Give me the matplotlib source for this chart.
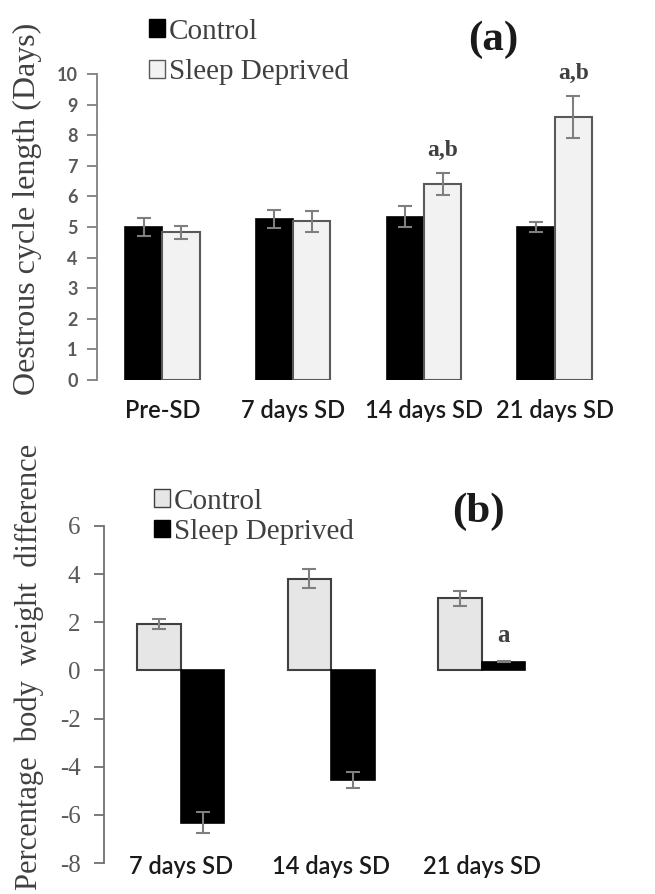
import matplotlib
matplotlib.use("Agg")
import matplotlib.pyplot as plt
from matplotlib.patches import Patch
import numpy as np

plt.rcParams['axes.unicode_minus'] = False

# panel (a): oestrous cycle length
cats_a = ['Pre-SD', '7 days SD', '14 days SD', '21 days SD']
ctrl_a = [5.0, 5.26, 5.34, 5.0]
ctrl_a_err = [0.28, 0.30, 0.35, 0.17]
sd_a = [4.83, 5.18, 6.40, 8.60]
sd_a_err = [0.21, 0.33, 0.37, 0.69]
annot_a = ['', '', 'a,b', 'a,b']

# panel (b): body weight difference
cats_b = ['7 days SD', '14 days SD', '21 days SD']
ctrl_b = [1.94, 3.81, 3.0]
ctrl_b_err = [0.20, 0.40, 0.32]
sd_b = [-6.33, -4.55, 0.37]
sd_b_err = [0.44, 0.33, 0.02]
annot_b = ['', '', 'a']

serif = 'Liberation Serif'
sans = 'Lato'
txt_gray = '#404040'
err_gray = '#7f7f7f'

fig = plt.figure(figsize=(6.55, 8.94), dpi=100)

# ---------- (a)
ax1 = fig.add_axes([97/655, 1-380/894, (620-97)/655, (380-74)/894])
x = np.arange(len(cats_a))
w = 0.285
ax1.bar(x - w/2, ctrl_a, w, color='black', edgecolor='black', linewidth=1.2,
        yerr=ctrl_a_err, error_kw=dict(ecolor=err_gray, elinewidth=1.5, capsize=5, capthick=1.5))
ax1.bar(x + w/2, sd_a, w, color='#f2f2f2', edgecolor='#595959', linewidth=1.5,
        yerr=sd_a_err, error_kw=dict(ecolor=err_gray, elinewidth=1.5, capsize=5, capthick=1.5))
for i, t in enumerate(annot_a):
    if t:
        ax1.text(x[i] + w/2, sd_a[i] + sd_a_err[i] + 0.4, t, ha='center', va='bottom',
                 fontsize=17, fontweight='bold', family=serif, color=txt_gray, clip_on=False)
ax1.set_xlim(-0.5, 3.5)
ax1.set_ylim(0, 10)
ax1.set_yticks(range(0, 11))
ax1.set_xticks(x)
ax1.set_xticklabels(cats_a, fontsize=17, family=sans, fontweight='semibold', color='#1a1a1a')
for s in ['top', 'right', 'bottom']:
    ax1.spines[s].set_visible(False)
ax1.spines['left'].set_color('#808080')
ax1.spines['left'].set_linewidth(1.3)
ax1.tick_params(axis='y', length=7, width=1.3, color='#808080', pad=7,
                labelsize=13, labelcolor='#595959')
ax1.tick_params(axis='x', length=0, pad=14)
for lab in ax1.get_yticklabels():
    lab.set_family(sans)
    lab.set_fontweight('bold')

fig.text(27/655, 1-209/894, 'Oestrous cycle length (Days)', rotation=90, ha='center',
         va='center', fontsize=23, family=serif, color=txt_gray)
fig.text(493/655, 1-40/894, '(a)', ha='center', va='center', fontsize=31,
         fontweight='bold', family=serif, color='#1a1a1a')
hs_a = [Patch(facecolor='black', edgecolor='black'),
        Patch(facecolor='#f2f2f2', edgecolor='#595959')]
fig.legend(hs_a, ['Control', 'Sleep Deprived'], loc='upper left',
           bbox_to_anchor=(134/655, 1-4/894), frameon=False, borderpad=0,
           handlelength=0.55, handleheight=0.55, handletextpad=0.15, labelspacing=0.5,
           prop=dict(family=serif, size=21), labelcolor=txt_gray)

# ---------- (b)
ax2 = fig.add_axes([104/655, 1-863/894, (557-104)/655, (863-526)/894])
xb = np.arange(len(cats_b))
wb = 0.29
ax2.bar(xb - wb/2, ctrl_b, wb, color='#e6e6e6', edgecolor='#404040', linewidth=1.5,
        yerr=ctrl_b_err, error_kw=dict(ecolor=err_gray, elinewidth=1.5, capsize=5, capthick=1.5))
ax2.bar(xb + wb/2, sd_b, wb, color='black', edgecolor='black', linewidth=1.2,
        yerr=sd_b_err, error_kw=dict(ecolor=err_gray, elinewidth=1.5, capsize=5, capthick=1.5))
for i, t in enumerate(annot_b):
    if t:
        ax2.text(xb[i] + wb/2, max(sd_b[i], 0) + sd_b_err[i] + 0.6, t, ha='center', va='bottom',
                 fontsize=18, fontweight='bold', family=serif, color=txt_gray, clip_on=False)
ax2.set_xlim(-0.51, 2.5)
ax2.set_ylim(-8, 6)
ax2.set_yticks(range(-8, 7, 2))
ax2.set_xticks(xb)
ax2.set_xticklabels(cats_b, fontsize=17, family=sans, fontweight='semibold', color='#1a1a1a')
for s in ['top', 'right', 'bottom']:
    ax2.spines[s].set_visible(False)
ax2.spines['left'].set_color('#6f6f6f')
ax2.spines['left'].set_linewidth(1.3)
ax2.tick_params(axis='y', length=7, width=1.3, color='#6f6f6f', pad=10,
                labelsize=18, labelcolor='#595959')
ax2.tick_params(axis='x', length=0, pad=-6)
for lab in ax2.get_yticklabels():
    lab.set_family(serif)

fig.text(29/655, 1-667/894, 'Percentage  body  weight  difference', rotation=90, ha='center',
         va='center', fontsize=22, family=serif, color=txt_gray)
fig.text(478/655, 1-512/894, '(b)', ha='center', va='center', fontsize=31,
         fontweight='bold', family=serif, color='#1a1a1a')
hs_b = [Patch(facecolor='#e6e6e6', edgecolor='#404040'),
        Patch(facecolor='black', edgecolor='black')]
fig.legend(hs_b, ['Control', 'Sleep Deprived'], loc='upper left',
           bbox_to_anchor=(139/655, 1-474/894), frameon=False, borderpad=0,
           handlelength=0.55, handleheight=0.55, handletextpad=0.15, labelspacing=0.15,
           prop=dict(family=serif, size=21), labelcolor=txt_gray)

fig.savefig('out.png', dpi=100)
